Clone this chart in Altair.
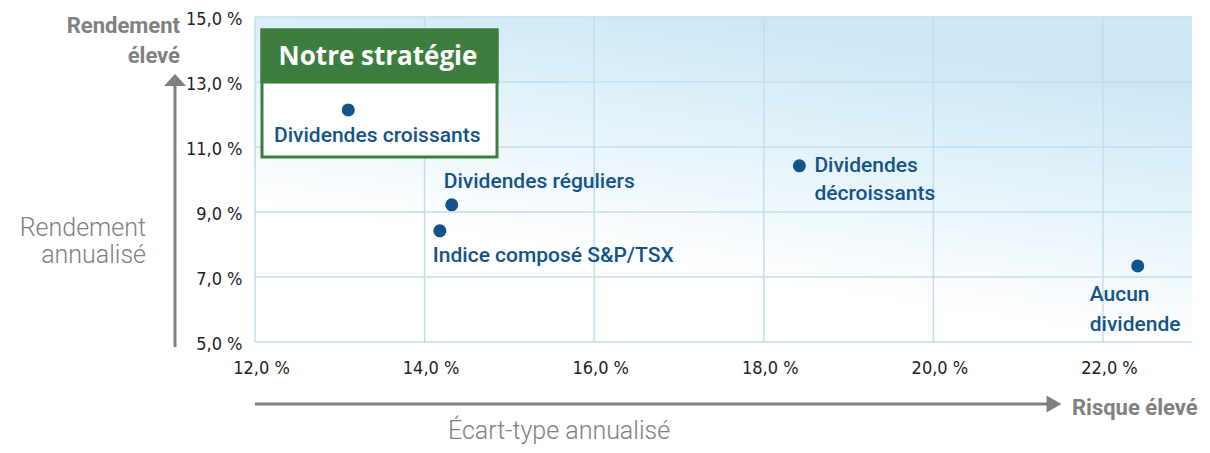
import altair as alt
import pandas as pd

# ---- data ----
names = ["Dividendes croissants", "Dividendes réguliers", "Indice composé S&P/TSX",
         "Dividendes décroissants", "Aucun dividende"]
labels = ["Dividendes croissants", "Dividendes réguliers", "Indice composé S&P/TSX",
          "Dividendes\ndécroissants", "Aucun\ndividende"]
risk = [13.1, 14.32, 14.18, 18.42, 22.41]      # écart-type annualisé (%)
ret = [12.14, 9.22, 8.42, 10.42, 7.34]         # rendement annualisé (%)
x_ticks = [12, 14, 16, 18, 20, 22]
y_ticks = [5, 7, 9, 11, 13, 15]

df = pd.DataFrame({"name": names, "label": labels, "risk": risk, "ret": ret})

W, H = 937, 325
BLUE = "#13538a"
GREEN = "#3d7e3e"
GRAY = "#808080"
GRID = "#c2deec"
TICK_FONT = "Liberation Sans Narrow, DejaVu Sans Condensed, Roboto, sans-serif"
LBL_FONT = "Roboto, sans-serif"
fmt = "replace(format(datum.value, '.1f'), '.', ',') + ' %'"

xs = alt.X("risk:Q", scale=alt.Scale(domain=[12, 23.05], nice=False, zero=False),
           axis=alt.Axis(values=x_ticks, labelExpr=fmt, title=None, domain=False,
                         ticks=False, tickSize=0, labelPadding=17, labelOffset=6,
                         labelFlush=False, labelFont=TICK_FONT, labelFontSize=18,
                         labelColor="#222222", grid=False))
ys = alt.Y("ret:Q", scale=alt.Scale(domain=[5, 15], nice=False, zero=False),
           axis=alt.Axis(values=y_ticks, labelExpr=fmt, title=None, domain=False,
                         ticks=False, tickSize=0, labelPadding=13, labelOffset=2,
                         labelFont=TICK_FONT, labelFontSize=18, labelColor="#222222",
                         grid=False))

one = alt.Data(values=[{}])

gradient = alt.LinearGradient(
    gradient="linear", x1=0, y1=1, x2=0.45, y2=0,
    stops=[alt.GradientStop(color="#ffffff", offset=0),
           alt.GradientStop(color="#ffffff", offset=0.36),
           alt.GradientStop(color="#cce8f6", offset=1)])

bg = alt.Chart(one).mark_rect(fill=gradient).encode(
    x=alt.value(0), x2=alt.value(W), y=alt.value(0), y2=alt.value(H))

grid_x = alt.Chart(pd.DataFrame({"risk": x_ticks})).mark_rule(
    color=GRID, strokeWidth=1.5).encode(x=xs, y=alt.value(0), y2=alt.value(H))
grid_y = alt.Chart(pd.DataFrame({"ret": y_ticks})).mark_rule(
    color=GRID, strokeWidth=1.5).encode(y=ys, x=alt.value(0), x2=alt.value(W))

# "Notre stratégie" box
box = alt.Chart(one).mark_rect(fill="white", stroke=GREEN, strokeWidth=3).encode(
    x=alt.value(7), x2=alt.value(242), y=alt.value(13), y2=alt.value(140))
box_head = alt.Chart(one).mark_rect(fill=GREEN, stroke=GREEN, strokeWidth=3).encode(
    x=alt.value(7), x2=alt.value(242), y=alt.value(13), y2=alt.value(65))
box_title = alt.Chart(one).mark_text(
    text="Notre stratégie", font="Open Sans, sans-serif", fontWeight="bold",
    fontSize=26, color="white", align="center",
    baseline="alphabetic").encode(x=alt.value(123), y=alt.value(48))

points = alt.Chart(df).mark_circle(size=170, color=BLUE, opacity=1).encode(x=xs, y=ys)


def lbl(name, **kw):
    base = dict(font=LBL_FONT, fontSize=21, fontWeight=500, color=BLUE, lineBreak="\n")
    base.update(kw)
    return alt.Chart(df).transform_filter(alt.datum.name == name).mark_text(**base).encode(
        x="risk:Q", y="ret:Q", text="label:N")


t1 = lbl(names[0], align="center", baseline="middle", dx=29, dy=26)
t2 = lbl(names[1], align="left", baseline="middle", dx=-8, dy=-23)
t3 = lbl(names[2], align="left", baseline="middle", dx=-7, dy=25)
t4 = lbl(names[3], align="left", baseline="top", dx=15, dy=-11, lineHeight=28)
t5 = lbl(names[4], align="left", baseline="top", dx=-48, dy=18, lineHeight=30)

# arrows and outer titles
up_line = alt.Chart(one).mark_rule(color=GRAY, strokeWidth=3).encode(
    x=alt.value(-80), y=alt.value(330), y2=alt.value(66))
up_head = alt.Chart(one).mark_point(shape="M0,-0.55L1,0.55L-1,0.55Z", filled=True,
                                    size=484, color=GRAY, opacity=1).encode(
    x=alt.value(-80), y=alt.value(63))
right_line = alt.Chart(one).mark_rule(color=GRAY, strokeWidth=3).encode(
    x=alt.value(0), x2=alt.value(796), y=alt.value(387))
right_head = alt.Chart(one).mark_point(shape="M0.7,0L-0.7,-0.8L-0.7,0.8Z", filled=True,
                                       size=449, color=GRAY, opacity=1).encode(
    x=alt.value(799), y=alt.value(387))

hi_ret = alt.Chart(one).mark_text(text="Rendement\nélevé", lineBreak="\n", lineHeight=30,
                                  font=LBL_FONT, fontWeight="bold", fontSize=22, color=GRAY,
                                  align="right", baseline="alphabetic").encode(
    x=alt.value(-75), y=alt.value(16))
y_title = alt.Chart(one).mark_text(text="Rendement\nannualisé", lineBreak="\n", lineHeight=27,
                                   font=LBL_FONT, fontWeight=300, fontSize=25, color=GRAY,
                                   align="right", baseline="alphabetic").encode(
    x=alt.value(-109), y=alt.value(219))
hi_risk = alt.Chart(one).mark_text(text="Risque élevé", font=LBL_FONT, fontWeight="bold",
                                   fontSize=22, color=GRAY, align="left",
                                   baseline="alphabetic").encode(
    x=alt.value(817), y=alt.value(398))
x_title = alt.Chart(one).mark_text(text="Écart-type annualisé", font=LBL_FONT, fontWeight=300,
                                   fontSize=25, color=GRAY, align="center",
                                   baseline="alphabetic").encode(
    x=alt.value(304), y=alt.value(422))

chart = alt.layer(
    bg, grid_x, grid_y, box, box_head, box_title, points, t1, t2, t3, t4, t5,
    up_line, up_head, right_line, right_head, hi_ret, y_title, hi_risk, x_title,
).properties(
    width=W, height=H,
    autosize=alt.AutoSizeParams(type="none"),
    padding={"left": 247, "top": 9, "right": 10, "bottom": 103},
    background="white",
).configure_view(stroke=None)

chart.save("out.html", embed_options={"renderer": "svg", "actions": False})
